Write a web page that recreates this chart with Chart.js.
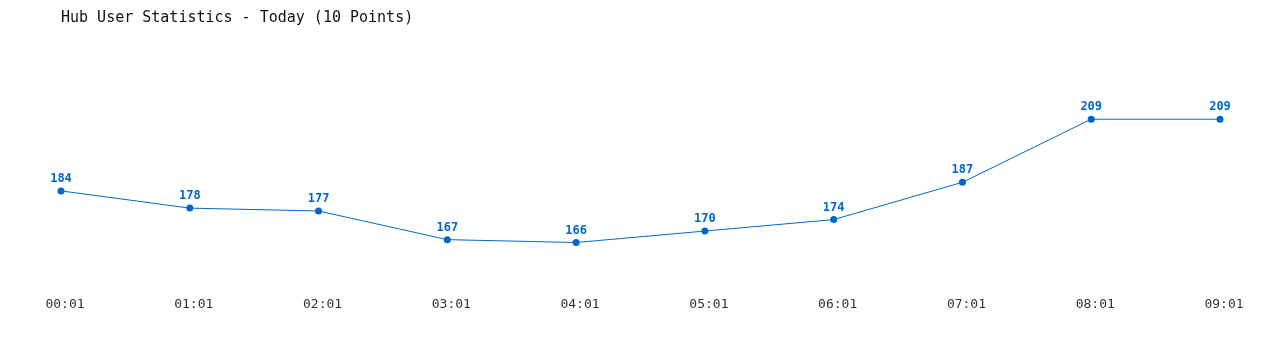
<!DOCTYPE html>
<html>
<head>
<meta charset="utf-8">
<script src="https://cdn.jsdelivr.net/npm/chart.js@4.4.1/dist/chart.umd.min.js"></script>
<style>
  html,body{margin:0;padding:0;background:#fff;}
  #wrap{width:1280px;height:350px;}
</style>
</head>
<body>
<div id="wrap"><canvas id="chartUsers"></canvas></div>
<script>
const TIME_LABELS = ['00:01','01:01','02:01','03:01','04:01','05:01','06:01','07:01','08:01','09:01'];
const USER_COUNTS = [184, 178, 177, 167, 166, 170, 174, 187, 209, 209];

const BLUE = '#0066cc';
const MONO = '"DejaVu Sans Mono", "Liberation Mono", monospace';

// value labels drawn above each point
const pointLabels = {
  id:'pointLabels',
  afterDatasetsDraw(chart){
    const ctx = chart.ctx;
    const meta = chart.getDatasetMeta(0);
    ctx.save();
    ctx.font = 'bold 12px ' + MONO;
    ctx.fillStyle = BLUE;
    ctx.textAlign = 'center';
    ctx.textBaseline = 'bottom';
    meta.data.forEach((pt, i)=>{
      ctx.fillText(String(USER_COUNTS[i]), pt.x, pt.y - 6);
    });
    ctx.restore();
  }
};

new Chart(document.getElementById('chartUsers'), {
  type:'line',
  data:{
    labels: TIME_LABELS,
    datasets:[{
      label:'Users', data: USER_COUNTS,
      borderColor: BLUE, borderWidth:1, backgroundColor: BLUE,
      pointRadius:3.5, pointBackgroundColor: BLUE, pointBorderWidth:0,
      tension:0, fill:false
    }]
  },
  options:{
    responsive:true, maintainAspectRatio:false, animation:false,
    layout:{ padding:{ top:0, left:61, right:60, bottom:38 } },
    plugins:{
      legend:{ display:false },
      tooltip:{ enabled:false },
      title:{
        display:true, text:'Hub User Statistics - Today (10 Points)',
        align:'start', color:'#111',
        font:{ family: MONO, size:15, weight:'normal' },
        padding:{ top:9, bottom:32 }
      }
    },
    scales:{
      x:{
        offset:false,
        grid:{ display:false }, border:{ display:false },
        ticks:{ color:'#333', font:{ family: MONO, size:13 }, padding:0, labelOffset:4, maxRotation:0, autoSkip:false }
      },
      y:{ display:false, min:150, max:230 }
    }
  },
  plugins:[pointLabels]
});
</script>
</body>
</html>
